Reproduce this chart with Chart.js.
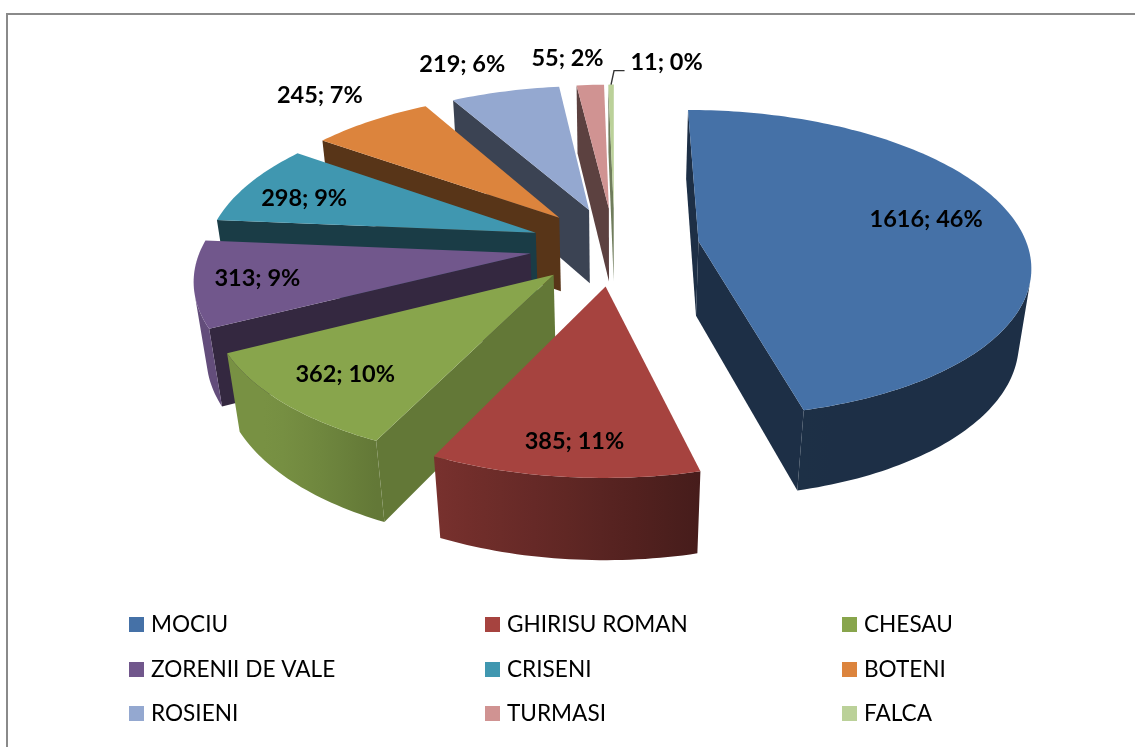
<!DOCTYPE html>
<html><head><meta charset="utf-8">
<style>html,body{margin:0;padding:0;background:#fff;overflow:hidden}canvas{display:block}</style>
<script src="https://cdn.jsdelivr.net/npm/chart.js@4"></script>
</head><body><canvas id="c" width="1135" height="747"></canvas>
<script>
const categories = ["MOCIU","GHIRISU ROMAN","CHESAU","ZORENII DE VALE","CRISENI","BOTENI","ROSIENI","TURMASI","FALCA"];
const values = [1616,385,362,313,298,245,219,55,11];
const colors = ["#4571A7","#A6433F","#88A54C","#71578C","#4097B0","#DC843D","#94A8D0","#D09392","#BBD199"];
const wallShade = [0.42,0.42,0.73,0.46,0.40,0.40,0.40,0.44,0.6];
const labelRadius = [0.733,0.83,0.79,0.815,0.787,1.311,1.306,1.271,1.237];
const labelTurn = [-5.3,-0.5,0,0.3,-1.8,0.1,-3.5,-3.1,9.6];

const VIEW = {d:2300, k:0.46, H:77, c:70};
const FONT = 'Lato, "Noto Sans", sans-serif';

function rgb(hex,f){
  const n=parseInt(hex.slice(1),16);
  return `rgb(${Math.round((n>>16&255)*f)},${Math.round((n>>8&255)*f)},${Math.round((n&255)*f)})`;
}
function poly(ctx,pts,fill){
  ctx.beginPath();
  pts.forEach((p,i)=>i?ctx.lineTo(p.x,p.y):ctx.moveTo(p.x,p.y));
  ctx.closePath();
  ctx.fillStyle=fill;ctx.fill();
}
function area(p){let a=0;for(let i=0;i<p.length;i++){const q=p[(i+1)%p.length];a+=p[i].x*q.y-q.x*p[i].y;}return a/2;}

const pie3d = {
  id:'pie3d',
  beforeDatasetsDraw(chart){
    const ctx=chart.ctx, arcs=chart.getDatasetMeta(0).data;
    const project=(a,X,Y,z)=>{
      const s=VIEW.d/(VIEW.d+Y+VIEW.c*z);
      return {x:a.x+X*s,y:a.y-VIEW.k*Y*s+VIEW.H*z*s};
    };
    const geom=arcs.map((a,i)=>{
      const off=a.options.offset, mid=(a.startAngle+a.endAngle)/2;
      const ox=off*Math.cos(mid), oy=-off*Math.sin(mid);
      const rim=(ang,z,fr=1)=>project(a,ox+fr*a.outerRadius*Math.cos(ang),oy-fr*a.outerRadius*Math.sin(ang),z);
      return {a,i,mid,ox,oy,rim};
    });
    const depthOf=g=>g.oy-g.a.outerRadius*Math.sin(g.mid);
    geom.slice().sort((p,q)=>depthOf(q)-depthOf(p)).forEach(g=>{
      const {a,i,rim}=g, col=colors[i];
      const n=Math.max(4,Math.ceil((a.endAngle-a.startAngle)/0.02));
      const ang=k=>a.startAngle+(a.endAngle-a.startAngle)*k/n;
      const at=project(a,g.ox,g.oy,0), ab=project(a,g.ox,g.oy,1);
      const w0=[at,rim(a.startAngle,0),rim(a.startAngle,1),ab];
      const w1=[at,rim(a.endAngle,0),rim(a.endAngle,1),ab];
      if(area(w0)<0) poly(ctx,w0,rgb(col,wallShade[i]));
      if(area(w1)>0) poly(ctx,w1,rgb(col,wallShade[i]));
      const vis=[];
      for(let k=0;k<n;k++){
        const a0=ang(k),a1=ang(k+1);
        if(area([rim(a0,0),rim(a1,0),rim(a1,1),rim(a0,1)])<0) vis.push(k);
      }
      if(vis.length){
        const first=vis[0], last=vis[vis.length-1];
        const up=[],down=[];
        for(let k=first;k<=last+1;k++){up.push(rim(ang(k),0));down.unshift(rim(ang(k),1));}
        const pts=up.concat(down);
        const x0=up[0].x, x1=up[up.length-1].x;
        const grad=ctx.createLinearGradient(x0,0,x1===x0?x0+1:x1,0);
        const stops=8;
        for(let t=0;t<=stops;t++){
          const nx=Math.cos(ang(first+(last+1-first)*t/stops));
          const f=Math.min(0.88,Math.max(0.42,0.53-0.45*nx));
          grad.addColorStop(t/stops,rgb(col,f));
        }
        poly(ctx,pts,grad);
      }
      const top=[at];
      for(let k=0;k<=n;k++) top.push(rim(ang(k),0));
      poly(ctx,top,col);
    });
    ctx.font='bold 23.5px '+FONT;
    ctx.textAlign='center';ctx.textBaseline='middle';
    const total=values.reduce((s,v)=>s+v,0);
    geom.forEach(g=>{
      const t=g.mid+labelTurn[g.i]*Math.PI/180;
      const p=g.rim(t,0,labelRadius[g.i]);
      ctx.fillStyle='#000';
      ctx.fillText(`${values[g.i]}; ${Math.round(values[g.i]/total*100)}%`,p.x,p.y+1);
      g.lab=p;
    });
    const last=geom[geom.length-1], o=last.rim(last.mid,0);
    ctx.beginPath();ctx.moveTo(o.x,o.y);ctx.lineTo(o.x+3,o.y-14);ctx.lineTo(last.lab.x-42,o.y-14);
    ctx.strokeStyle='#333';ctx.lineWidth=1.4;ctx.stroke();
    return false;
  },
  afterDraw(chart){
    const ctx=chart.ctx;
    ctx.strokeStyle='#8a8a8a';ctx.lineWidth=2;
    ctx.beginPath();ctx.moveTo(7,747);ctx.lineTo(7,14);ctx.lineTo(1135,14);ctx.stroke();
    const cols=[129,485,842], rows=[617,662,706];
    ctx.font='22.6px '+FONT;ctx.textAlign='left';ctx.textBaseline='middle';
    chart.data.labels.forEach((t,i)=>{
      const x=cols[i%3], y=rows[Math.floor(i/3)];
      ctx.fillStyle=colors[i];ctx.fillRect(x,y,15,15);
      ctx.fillStyle='#000';ctx.fillText(t,x+22,y+7.5);
    });
  }
};

new Chart(document.getElementById('c'),{
  type:'pie',
  data:{labels:categories,datasets:[{data:values,backgroundColor:colors,offset:85,borderWidth:0}]},
  options:{
    responsive:false,animation:false,radius:329,rotation:0,
    layout:{padding:{left:94,right:0,top:0,bottom:255}},
    plugins:{legend:{display:false},tooltip:{enabled:false}}
  },
  plugins:[pie3d]
});
</script></body></html>
